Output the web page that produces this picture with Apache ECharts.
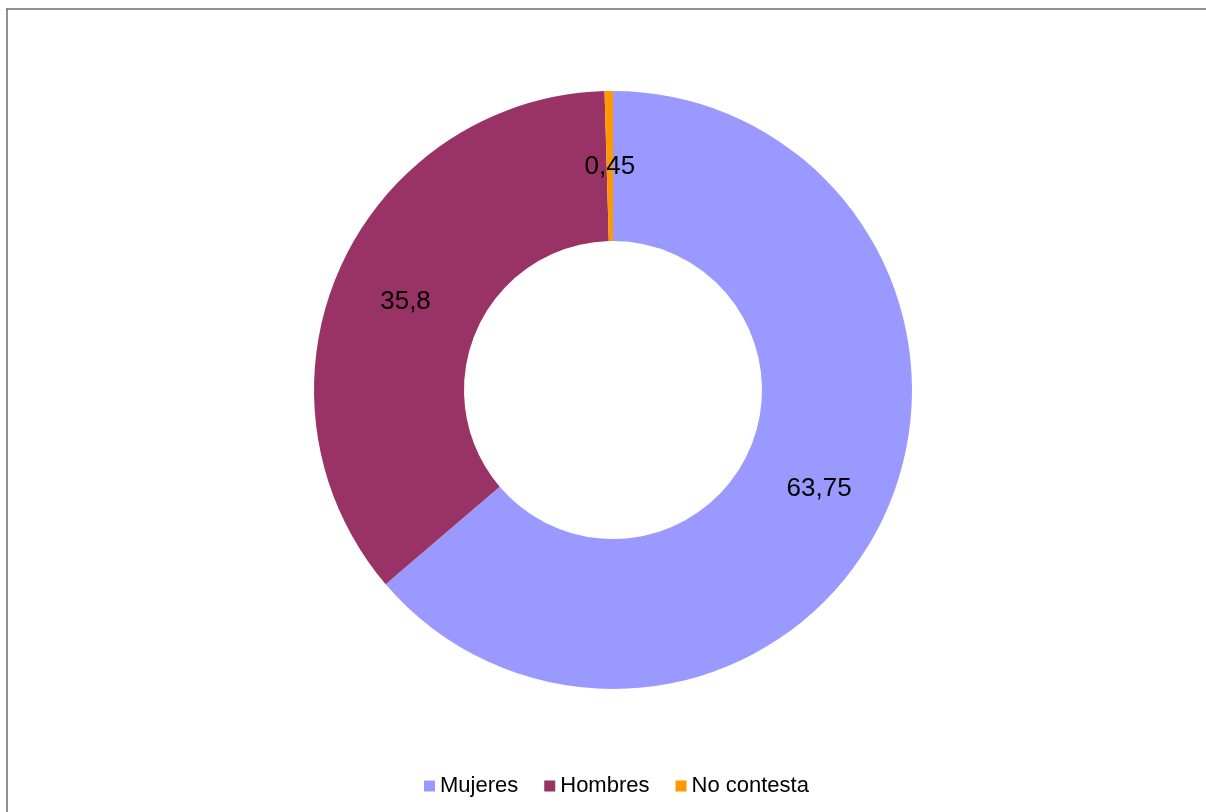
<!DOCTYPE html>
<html>
<head>
<meta charset="utf-8">
<title>Distribución por sexo</title>
<script src="https://cdn.jsdelivr.net/npm/echarts@6/dist/echarts.min.js"></script>
<style>
  html, body { margin: 0; padding: 0; background: #ffffff; }
  #chart { width: 1206px; height: 812px; }
</style>
</head>
<body>
<div id="chart"></div>
<script>
// Categories, values (percentages) and slice colours
const categories = ['Mujeres', 'Hombres', 'No contesta'];
const values = [63.75, 35.8, 0.45];
const colors = ['#9999FF', '#993366', '#FF9900'];

const chart = echarts.init(document.getElementById('chart'), null, { renderer: 'canvas' });

const seriesData = categories.map((name, i) => ({
  name: name,
  value: values[i],
  itemStyle: { color: colors[i] }
}));

const FONT = '"Liberation Sans", Arial, sans-serif';

chart.setOption({
  backgroundColor: '#ffffff',
  animation: false,
  color: colors,
  legend: {
    data: categories,
    left: 424,
    top: 775,
    padding: 0,
    orient: 'horizontal',
    icon: 'rect',
    itemWidth: 11,
    itemHeight: 11,
    itemGap: 26,
    textStyle: { fontFamily: FONT, fontSize: 22, color: '#000000' }
  },
  graphic: [
    // Chart frame (top and left edges)
    { type: 'line', shape: { x1: 6, y1: 9, x2: 1206, y2: 9 }, style: { stroke: '#6b6b6b', lineWidth: 1.5 } },
    { type: 'line', shape: { x1: 7, y1: 9, x2: 7, y2: 812 }, style: { stroke: '#6b6b6b', lineWidth: 1.5 } }
  ],
  series: [{
    type: 'pie',
    center: [613, 390],
    radius: [149, 299],
    startAngle: 90,
    clockwise: true,
    avoidLabelOverlap: false,
    silent: true,
    label: {
      show: true,
      position: 'inside',
      fontFamily: FONT,
      fontSize: 26,
      color: '#000000',
      formatter: p => String(p.value).replace('.', ',')
    },
    labelLayout: { dy: 4 },
    labelLine: { show: false },
    itemStyle: { borderWidth: 0 },
    data: seriesData
  }]
});
</script>
</body>
</html>
